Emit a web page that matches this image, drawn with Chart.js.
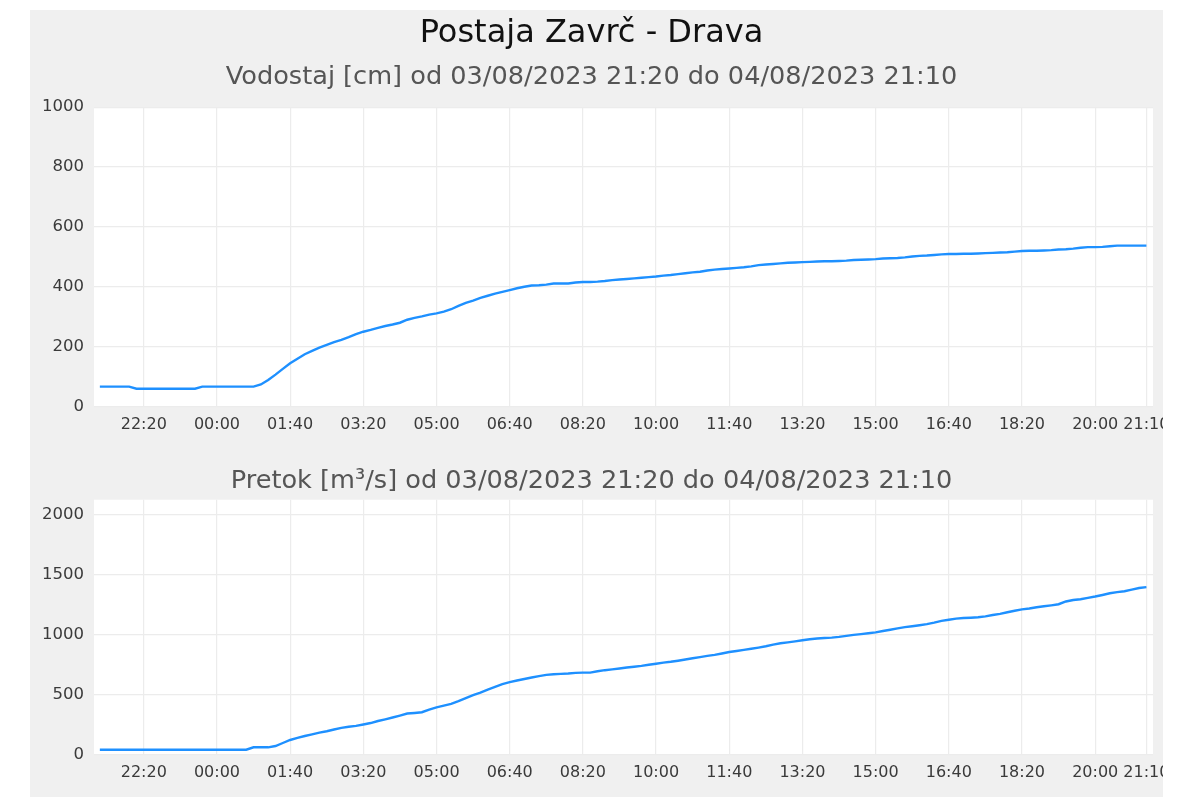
<!DOCTYPE html>
<html>
<head>
<meta charset="utf-8">
<title>Postaja Zavrč - Drava</title>
<script src="https://cdn.jsdelivr.net/npm/chart.js@4"></script>
<style>
    body { margin: 0; background: #fff; }
    #panel {
        position: absolute; left: 30px; top: 10px;
        width: 1133px; height: 787px;
        background: #f0f0f0; overflow: hidden;
    }
    #panel canvas { position: absolute; left: 0; }
    #levelChart { top: 0; }
    #flowChart { top: 430px; }
</style>
</head>
<body>
<div id="panel">
    <canvas id="levelChart" width="1160" height="430"></canvas>
    <canvas id="flowChart" width="1160" height="357"></canvas>
</div>
<script>
// Readings every 10 minutes, from 03/08/2023 21:20 to 04/08/2023 21:10
const stepMinutes = 10;

// Vodostaj [cm]
const levelValues = [
    68, 68, 68, 68, 68, 61, 61, 61, 61, 61, 61, 61,
    61, 61, 68, 68, 68, 68, 68, 68, 68, 68, 75, 90,
    108, 127, 146, 161, 176, 187, 198, 207, 216, 224, 233, 243,
    251, 257, 264, 270, 275, 281, 291, 297, 302, 308, 312, 318,
    326, 337, 347, 355, 364, 371, 378, 384, 390, 396, 401, 405,
    406, 408, 412, 412, 412, 415, 417, 417, 418, 420, 423, 425,
    427, 429, 431, 433, 435, 438, 440, 443, 446, 449, 451, 455,
    458, 460, 462, 464, 466, 469, 473, 475, 477, 479, 481, 482,
    483, 484, 485, 486, 486, 487, 488, 490, 491, 492, 493, 495,
    496, 497, 499, 502, 504, 505, 507, 509, 510, 510, 511, 511,
    512, 513, 514, 515, 516, 518, 520, 521, 521, 522, 523, 525,
    526, 528, 531, 533, 533, 534, 536, 538, 538, 538, 538, 538
];

// Pretok [m³/s]
const flowValues = [
    44, 44, 44, 44, 44, 44, 44, 44, 44, 44, 44, 44,
    44, 44, 44, 44, 44, 44, 44, 44, 44, 64, 64, 64,
    75, 100, 125, 142, 158, 172, 186, 198, 212, 226, 235, 242,
    254, 266, 283, 297, 312, 328, 345, 350, 356, 378, 397, 411,
    425, 448, 473, 498, 520, 545, 567, 590, 607, 620, 633, 645,
    656, 667, 672, 675, 678, 684, 686, 686, 697, 706, 713, 720,
    728, 735, 742, 751, 760, 769, 776, 785, 795, 805, 815, 825,
    833, 845, 857, 866, 875, 884, 894, 905, 919, 930, 938, 946,
    955, 964, 970, 974, 977, 983, 992, 1000, 1006, 1013, 1021, 1032,
    1043, 1054, 1064, 1072, 1080, 1089, 1102, 1117, 1126, 1135, 1140, 1143,
    1147, 1154, 1165, 1175, 1188, 1201, 1212, 1220, 1230, 1238, 1246, 1255,
    1278, 1290, 1297, 1308, 1319, 1332, 1346, 1356, 1363, 1376, 1390, 1397
];

// x axis ticks, in minutes after 21:20
const tickMinutes = [60, 160, 260, 360, 460, 560, 660, 760, 860, 960, 1060, 1160, 1260, 1360, 1430];
const tickLabels = ['22:20', '00:00', '01:40', '03:20', '05:00', '06:40', '08:20', '10:00',
    '11:40', '13:20', '15:00', '16:40', '18:20', '20:00', '21:10'];

const levelTicks = [0, 200, 400, 600, 800, 1000];
const flowTicks = [0, 500, 1000, 1500, 2000];

Chart.defaults.font.family = "'DejaVu Sans', sans-serif";

// white plot area on the grey panel
const plotBackground = {
    id: 'plotBackground',
    beforeDraw(chart) {
        const { ctx, chartArea } = chart;
        ctx.save();
        ctx.fillStyle = '#ffffff';
        ctx.fillRect(chartArea.left, chartArea.top,
            chartArea.right - chartArea.left, chartArea.bottom - chartArea.top);
        ctx.restore();
    }
};

function toPoints(values) {
    return values.map((v, i) => ({ x: i * stepMinutes, y: v }));
}

function buildChart(canvasId, values, yMax, yTicks, titles, padding) {
    return new Chart(document.getElementById(canvasId), {
        type: 'line',
        data: {
            datasets: [{
                data: toPoints(values),
                borderColor: '#1e90ff',
                borderWidth: 2.4,
                pointRadius: 0,
                fill: false,
                tension: 0
            }]
        },
        options: {
            responsive: false,
            animation: false,
            devicePixelRatio: 1,
            layout: { padding: padding },
            scales: {
                x: {
                    type: 'linear',
                    min: -8,
                    max: 1439,
                    afterBuildTicks: (scale) => {
                        scale.ticks = tickMinutes.map(v => ({ value: v }));
                    },
                    afterFit: (scale) => { scale.height = 33; },
                    ticks: {
                        autoSkip: false,
                        maxRotation: 0,
                        padding: 8,
                        color: '#3a3a3a',
                        font: { size: 16 },
                        callback: (value) => tickLabels[tickMinutes.indexOf(value)]
                    },
                    grid: { color: '#ececec', lineWidth: 1.2, drawTicks: false },
                    border: { display: false }
                },
                y: {
                    min: 0,
                    max: yMax,
                    afterBuildTicks: (scale) => {
                        scale.ticks = yTicks.map(v => ({ value: v }));
                    },
                    afterFit: (scale) => { scale.width = 64; },
                    ticks: {
                        padding: 10,
                        color: '#3a3a3a',
                        font: { size: 16.5 },
                        callback: (value) => String(value)
                    },
                    grid: { color: '#ececec', lineWidth: 1.2, drawTicks: false },
                    border: { display: false }
                }
            },
            plugins: {
                legend: { display: false },
                tooltip: { enabled: false },
                title: titles.title,
                subtitle: titles.subtitle || { display: false }
            }
        },
        plugins: [plotBackground]
    });
}

buildChart('levelChart', levelValues, 1000, levelTicks, {
    title: {
        display: true,
        text: 'Postaja Zavrč - Drava',
        color: '#111111',
        font: { size: 32, weight: 'normal' },
        padding: { top: 4, bottom: 0 }
    },
    subtitle: {
        display: true,
        text: 'Vodostaj [cm] od 03/08/2023 21:20 do 04/08/2023 21:10',
        color: '#555555',
        font: { size: 25.6, weight: 'normal' },
        padding: { top: 10, bottom: 14 }
    }
}, { left: 0, right: 37, top: 0, bottom: 0 });

buildChart('flowChart', flowValues, 2125, flowTicks, {
    title: {
        display: true,
        text: 'Pretok [m³/s] od 03/08/2023 21:20 do 04/08/2023 21:10',
        color: '#555555',
        font: { size: 25.6, weight: 'normal' },
        padding: { top: 26, bottom: 3 }
    }
}, { left: 0, right: 37, top: 0, bottom: 9 });
</script>
</body>
</html>
